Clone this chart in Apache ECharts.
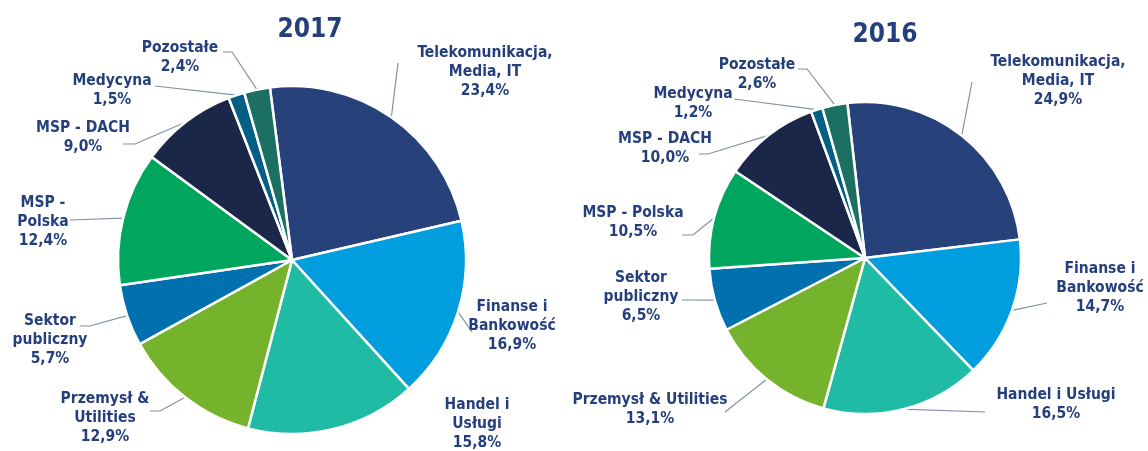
<!DOCTYPE html>
<html>
<head>
  <meta charset="utf-8" />
  <title>ECharts</title>
  <script src="https://cdn.jsdelivr.net/npm/echarts@6/dist/echarts.min.js"></script>
</head>
<body style="margin:0;background:#fff;">
<div id="main" style="width:1148px;height:451px;"></div>
<script type="text/javascript">
  // dane
  var categories = ['Telekomunikacja, Media, IT', 'Finanse i Bankowość', 'Handel i Usługi', 'Przemysł & Utilities',
    'Sektor publiczny', 'MSP - Polska', 'MSP - DACH', 'Medycyna', 'Pozostałe'];
  var values2017 = [23.4, 16.9, 15.8, 12.9, 5.7, 12.4, 9.0, 1.5, 2.4];
  var values2016 = [24.9, 14.7, 16.5, 13.1, 6.5, 10.5, 10.0, 1.2, 2.6];
  // podpisy (łamanie linii jak w oryginale)
  var labels2017 = ['Telekomunikacja,\nMedia, IT', 'Finanse i\nBankowość', 'Handel i\nUsługi', 'Przemysł &\nUtilities',
    'Sektor\npubliczny', 'MSP -\nPolska', 'MSP - DACH', 'Medycyna', 'Pozostałe'];
  var labels2016 = ['Telekomunikacja,\nMedia, IT', 'Finanse i\nBankowość', 'Handel i Usługi', 'Przemysł & Utilities',
    'Sektor\npubliczny', 'MSP - Polska', 'MSP - DACH', 'Medycyna', 'Pozostałe'];

  var colors = ['#27417b', '#009ddf', '#20bba5', '#76b32c', '#0071ae', '#00a55e', '#1a2748', '#035f86', '#1b7062'];
  var textColor = '#253f7c';
  var font = "'DejaVu Sans Condensed', 'DejaVu Sans', sans-serif";

  // pozycje podpisów: [x, y] środka tekstu, potem punkty linii odniesienia
  var pos2017 = [
    {x: 485, y: 72, line: [[398, 63]]},
    {x: 512, y: 326, line: [[472, 332]]},
    {x: 477, y: 424, line: null},
    {x: 105, y: 418, line: [[160, 411], [150, 411]]},
    {x: 50, y: 340, line: [[90, 326], [80, 326]]},
    {x: 43, y: 222, line: [[70, 220]]},
    {x: 83, y: 137, line: [[135, 144], [123, 144]]},
    {x: 112, y: 90, line: [[155, 86]]},
    {x: 180, y: 57, line: [[232, 52], [223, 52]]}
  ];
  var pos2016 = [
    {x: 1058, y: 81, line: [[972, 82]]},
    {x: 1100, y: 288, line: [[1047, 303]]},
    {x: 1056, y: 404, line: [[985, 412]]},
    {x: 650, y: 409, line: [[725, 412]]},
    {x: 641, y: 297, line: [[682, 300]]},
    {x: 633, y: 222, line: [[693, 235], [682, 235]]},
    {x: 665, y: 148, line: [[708, 154], [699, 154]]},
    {x: 693, y: 103, line: [[734, 99]]},
    {x: 757, y: 74, line: [[807, 69], [798, 69]]}
  ];

  function fmt(v) {
    return v.toFixed(1).replace('.', ',') + '%';
  }

  function buildData(values, labels) {
    return values.map(function (v, i) {
      return {name: categories[i], value: v, label: {formatter: labels[i] + '\n' + fmt(v)}};
    });
  }

  function buildSeries(values, labels, pos, center, radius, startAngle) {
    return {
      type: 'pie',
      center: center,
      radius: radius,
      startAngle: startAngle,
      clockwise: true,
      avoidLabelOverlap: false,
      silent: true,
      animation: false,
      data: buildData(values, labels),
      itemStyle: {borderColor: '#ffffff', borderWidth: 2.5},
      label: {
        show: true,
        position: 'outside',
        color: textColor,
        fontFamily: font,
        fontWeight: 'bold',
        fontSize: 15.5,
        lineHeight: 19,
        align: 'center'
      },
      labelLine: {
        show: true,
        length: 5,
        length2: 5,
        lineStyle: {color: '#8391a8', width: 1.2}
      },
      labelLayout: function (params) {
        var p = pos[params.dataIndex];
        var res = {x: p.x, y: p.y, align: 'center', verticalAlign: 'middle'};
        var start = params.labelLinePoints && params.labelLinePoints[0];
        if (p.line && start) {
          res.labelLinePoints = [start].concat(p.line);
        } else {
          res.labelLinePoints = start ? [start, start] : [[p.x, p.y], [p.x, p.y]];
        }
        return res;
      }
    };
  }

  var myChart = echarts.init(document.getElementById('main'));
  var option = {
    backgroundColor: '#ffffff',
    color: colors,
    title: [
      {text: '2017', left: 305, top: 12, textAlign: 'center',
        textStyle: {color: textColor, fontFamily: font, fontWeight: 'bold', fontSize: 26}},
      {text: '2016', left: 880, top: 17, textAlign: 'center',
        textStyle: {color: textColor, fontFamily: font, fontWeight: 'bold', fontSize: 26}}
    ],
    series: [
      buildSeries(values2017, labels2017, pos2017, [292, 260], 174, 97.3),
      buildSeries(values2016, labels2016, pos2016, [865, 258], 156, 96.5)
    ]
  };
  myChart.setOption(option);
</script>
</body>
</html>
